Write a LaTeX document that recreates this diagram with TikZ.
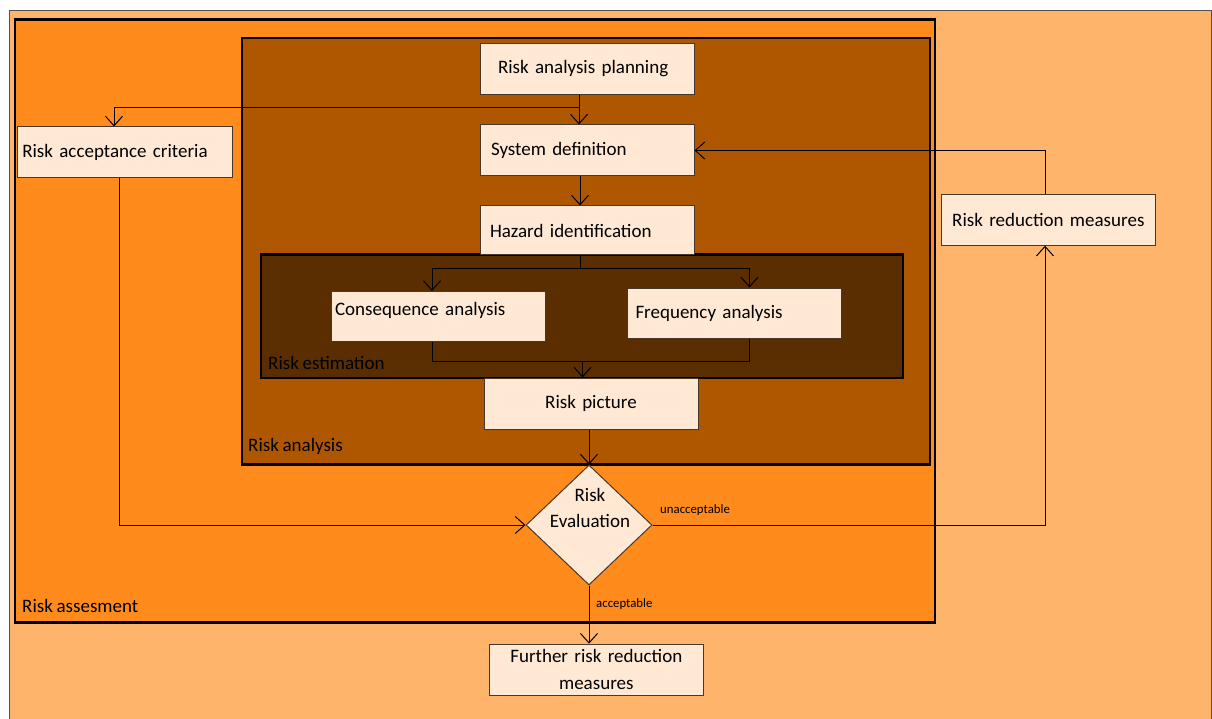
\documentclass[tikz,border=0pt]{standalone}
\usepackage{fontspec}
\setmainfont{Carlito}[WordSpace=0.85]
\usetikzlibrary{arrows.meta,shapes.geometric}

\definecolor{bgorange}{RGB}{255,180,107}
\definecolor{assessfill}{RGB}{254,139,28}
\definecolor{analysisfill}{RGB}{175,86,0}
\definecolor{estimfill}{RGB}{90,46,0}
\definecolor{boxfill}{RGB}{255,232,212}
\definecolor{boxline}{RGB}{70,56,44}
\definecolor{pageline}{RGB}{80,80,80}

\newcommand{\boxfont}{\fontsize{19}{26.7}\selectfont}
\newcommand{\tagfont}{\fontsize{12.8}{15}\selectfont}

\begin{document}
\begin{tikzpicture}[x=1pt,y=-1pt,
  >={Straight Barb[length=9.5pt,width=17pt]},
  box/.style={draw=boxline, fill=boxfill, line width=1pt, minimum height=51pt,
    inner ysep=0pt, align=left, font=\boxfont},
  region/.style={draw=black, line width=2.5pt},
  regiontitle/.style={anchor=west, inner sep=0pt, font=\boxfont},
  flow/.style={draw=black, line width=1pt},
  tag/.style={anchor=west, inner sep=0pt, font=\tagfont}]

% page and nested regions
\fill[white] (0,0) rectangle (1212,719);
\useasboundingbox (0,0) rectangle (1212,719);
\fill[bgorange] (9.5,10.5) rectangle (1211,725);
\draw[pageline, line width=1pt] (9.5,725) -- (9.5,10.5) -- (1211,10.5) -- (1211,725);
\filldraw[region, fill=assessfill] (15,19.5) rectangle (935,622.5);
\filldraw[region, fill=analysisfill] (242,38) rectangle (930,464.5);
\filldraw[region, fill=estimfill] (261,254.5) rectangle (903,378);

\node[regiontitle] (tassess) at (22,606) {Risk assesment};
\node[regiontitle] (tanalysis) at (248,446) {Risk analysis};
\node[regiontitle] (testim) at (268,363) {Risk estimation};

% process steps
\node[box, minimum width=214pt, text width=178pt, inner xsep=18pt] (plan) at (587,69) {Risk analysis planning};
\node[box, minimum width=214pt, text width=192pt, inner xsep=11pt] (sysdef) at (587,150.5) {System definition};
\node[box, minimum width=214pt, minimum height=49pt, text width=194pt, inner xsep=10pt] (hazard) at (587,230.5) {Hazard identification};
\node[box, minimum width=214pt, minimum height=50pt, text width=206pt, inner xsep=4pt,
  text height=13pt, text depth=16pt] (cons) at (438,316.5) {Consequence analysis};
\node[box, minimum width=214pt, minimum height=50pt, text width=198pt, inner xsep=8pt] (freq) at (734.5,313) {Frequency analysis};
\node[box, minimum width=214pt, text width=122pt, inner xsep=46pt, align=center] (pic) at (591,403.5) {Risk picture};
\node[box, minimum width=215pt, text width=205pt, inner xsep=5pt] (acc) at (124.8,152.5) {Risk acceptance criteria};
\node[box, minimum width=214pt, text width=206pt, inner xsep=4pt, align=center] (red) at (1048.3,219.7) {Risk reduction measures};
\node[box, minimum width=214pt, text width=200pt, inner xsep=7pt, align=center] (fur) at (596.3,669.7) {Further risk reduction\\measures};

% decision
\node[shape=diamond, draw=boxline, fill=boxfill, line width=1pt, minimum width=126pt,
  minimum height=120pt, inner sep=0pt] (eval) at (589,525) {};
\node[font=\boxfont, align=center, inner sep=0pt] (evaltext) at (590,508) {Risk\\Evaluation};

% junction points of the connectors
\coordinate (jA) at (579,108);
\coordinate (jB) at (114,108);
\coordinate (xA) at (580,0);
\coordinate (hs) at (580,269);
\coordinate (hl) at (432,269);
\coordinate (hr) at (749.5,269);
\coordinate (ml) at (432,361.5);
\coordinate (mr) at (749.5,361.5);
\coordinate (mm) at (582.5,361.5);
\coordinate (ac) at (119,525);
\coordinate (rc) at (1045,525);
\coordinate (rt) at (1045,150.5);

% connectors
\draw[flow] (plan.south -| jA) -- (jA);
\draw[flow,->] (jA) -- (jA |- sysdef.north);
\draw[flow,->] (jA) -- (jB) -- (jB |- acc.north);
\draw[flow,->] (sysdef.south -| xA) -- (hazard.north -| xA);
\draw[flow] (hazard.south -| hs) -- (hs);
\draw[flow] (hl) -- (hr);
\draw[flow,->] (hl) -- (hl |- cons.north);
\draw[flow,->] (hr) -- (hr |- freq.north);
\draw[flow] (cons.south -| ml) -- (ml) -- (mr) -- (freq.south -| mr);
\draw[flow,->] (mm) -- (mm |- pic.north);
\draw[flow,->] (pic.south -| eval.north) -- (eval.north);
\draw[flow,->] (acc.south -| ac) -- (ac) -- (eval.west);
\draw[flow,->] (eval.east) -- (rc) -- (rc |- red.south);
\draw[flow,->] (red.north -| rt) -- (rt) -- (sysdef.east);
\draw[flow,->] (eval.south) -- (eval.south |- fur.north);

\node[tag] (tunacc) at (660,510) {unacceptable};
\node[tag] (tacc) at (596,604) {acceptable};
\end{tikzpicture}
\end{document}
